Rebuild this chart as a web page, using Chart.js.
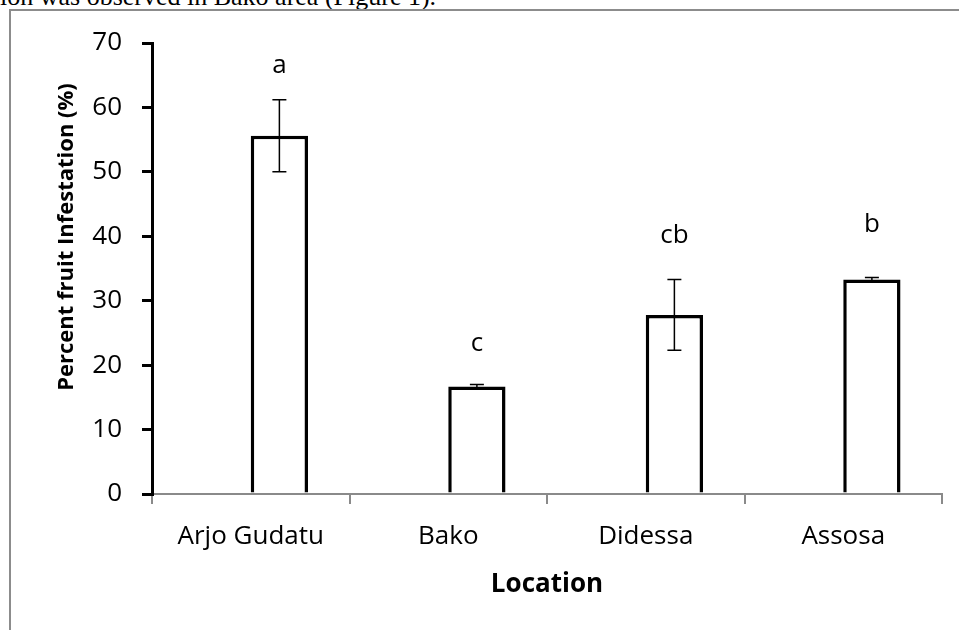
<!doctype html>
<html>

<head>
    <title>Percent fruit Infestation</title>
    <script src="https://cdn.jsdelivr.net/npm/chart.js@4.4.1/dist/chart.umd.min.js"></script>
    <style>
        body {
            margin: 0;
            background: #ffffff;
        }

        #page {
            position: relative;
            width: 959px;
            height: 630px;
            overflow: hidden;
        }

        #caption {
            position: absolute;
            left: 0;
            top: -16px;
            font-family: "Liberation Serif", "Times New Roman", serif;
            font-size: 26px;
            line-height: 26px;
            white-space: nowrap;
            color: #000;
        }

        #frame {
            position: absolute;
            left: 9px;
            top: 9px;
            width: 960px;
            height: 630px;
            border-left: 2px solid #8c8c8c;
            border-top: 2px solid #8c8c8c;
        }

        #container {
            position: absolute;
            left: 0;
            top: 0;
            width: 959px;
            height: 630px;
        }
    </style>
</head>

<body>
    <div id="page">
        <div id="caption">ion was observed in Bako area (Figure 1).</div>
        <div id="frame"></div>
        <div id="container">
            <canvas id="canvas"></canvas>
        </div>
    </div>
    <script>
        var locations = ["Arjo Gudatu", "Bako", "Didessa", "Assosa"];
        var infestation = [55.6, 16.7, 27.8, 33.3];
        var errors = [5.6, 0.3, 5.5, 0.3];
        var letters = ["a", "c", "cb", "b"];
        var letterHeights = [65.3, 22.2, 39.0, 40.7];
        var yTicks = [0, 10, 20, 30, 40, 50, 60, 70];

        var fontFamily = "'Open Sans', 'Noto Sans', sans-serif";

        // error bars and the letters above the bars
        var barExtras = {
            id: 'barExtras',
            afterDatasetsDraw: function (chart) {
                var ctx = chart.ctx;
                var y = chart.scales.y;
                var meta = chart.getDatasetMeta(1);
                ctx.save();
                ctx.strokeStyle = '#000';
                ctx.lineWidth = 1.5;
                meta.data.forEach(function (bar, i) {
                    var top = y.getPixelForValue(infestation[i] + errors[i]);
                    var bot = y.getPixelForValue(infestation[i] - errors[i]);
                    ctx.beginPath();
                    ctx.moveTo(bar.x, top);
                    ctx.lineTo(bar.x, bot);
                    ctx.moveTo(bar.x - 7, top);
                    ctx.lineTo(bar.x + 7, top);
                    ctx.moveTo(bar.x - 7, bot);
                    ctx.lineTo(bar.x + 7, bot);
                    ctx.stroke();

                    ctx.fillStyle = '#000';
                    ctx.font = '26px ' + fontFamily;
                    ctx.textAlign = 'center';
                    ctx.textBaseline = 'alphabetic';
                    ctx.fillText(letters[i], bar.x, y.getPixelForValue(letterHeights[i]));
                });
                ctx.restore();
            },
            afterDraw: function (chart) {
                var ctx = chart.ctx;
                ctx.save();
                ctx.translate(67, 237);
                ctx.rotate(-Math.PI / 2);
                ctx.fillStyle = '#000';
                ctx.font = 'bold 22px ' + fontFamily;
                ctx.textAlign = 'center';
                ctx.textBaseline = 'middle';
                ctx.fillText('Percent fruit Infestation (%)', 0, 0);
                ctx.restore();
            }
        };

        window.onload = function () {
            var ctx = document.getElementById('canvas').getContext('2d');
            window.myBar = new Chart(ctx, {
                type: 'bar',
                data: {
                    labels: locations,
                    datasets: [{
                        label: '',
                        data: locations.map(function () { return null; })
                    }, {
                        label: 'Percent fruit Infestation',
                        data: infestation,
                        backgroundColor: '#ffffff',
                        borderColor: '#000000',
                        borderWidth: 3.5
                    }]
                },
                options: {
                    responsive: true,
                    maintainAspectRatio: false,
                    animation: false,
                    categoryPercentage: 0.58,
                    barPercentage: 1.0,
                    layout: {
                        padding: { left: 0, right: 17, top: 43, bottom: 0 }
                    },
                    plugins: {
                        legend: { display: false },
                        tooltip: { enabled: false }
                    },
                    scales: {
                        x: {
                            z: 1,
                            grid: {
                                drawOnChartArea: false,
                                color: '#8a8a8a',
                                lineWidth: 2,
                                tickLength: 10,
                                offset: true
                            },
                            border: { color: '#8a8a8a', width: 2 },
                            ticks: {
                                color: '#000',
                                padding: 17,
                                maxRotation: 0,
                                font: { family: fontFamily, size: 26 }
                            },
                            title: {
                                display: true,
                                text: 'Location',
                                color: '#000',
                                padding: { top: 0, bottom: 30 },
                                font: { family: fontFamily, size: 26, weight: 'bold' }
                            },
                            afterFit: function (scale) {
                                scale.height = 136;
                            }
                        },
                        y: {
                            min: 0,
                            max: 70,
                            afterBuildTicks: function (scale) {
                                scale.ticks = yTicks.map(function (v) { return { value: v }; });
                            },
                            grid: {
                                drawOnChartArea: false,
                                color: '#000',
                                lineWidth: 3,
                                tickLength: 10
                            },
                            border: { color: '#000', width: 3 },
                            ticks: {
                                color: '#000',
                                padding: 20,
                                font: { family: fontFamily, size: 26 }
                            },
                            afterFit: function (scale) {
                                scale.width = 152;
                            }
                        }
                    }
                },
                plugins: [barExtras]
            });
        };
    </script>
</body>

</html>
